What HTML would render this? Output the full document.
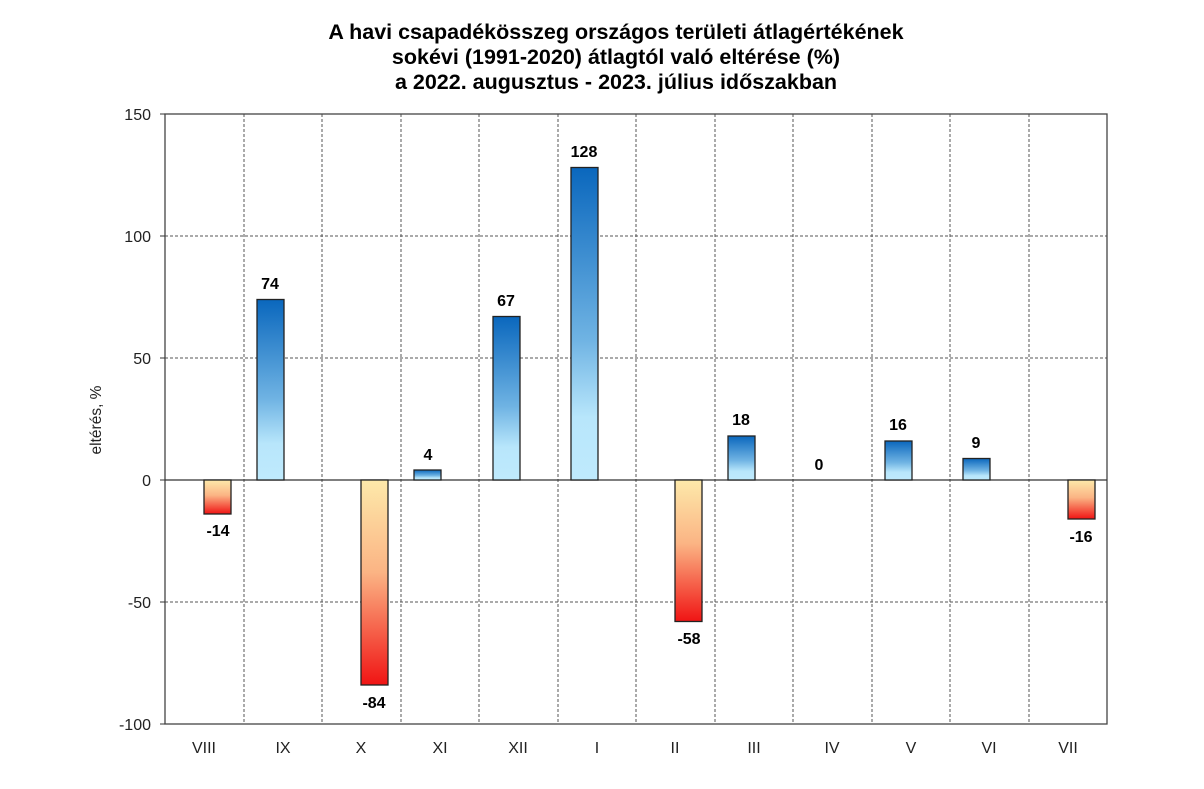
<!DOCTYPE html>
<html><head><meta charset="utf-8"><style>body{margin:0;background:#fff}</style></head><body>
<svg width="1204" height="784" xmlns="http://www.w3.org/2000/svg" font-family="Liberation Sans, Arial, sans-serif">
<defs>
<linearGradient id="b" x1="0" y1="0" x2="0" y2="1"><stop offset="0" stop-color="#0a67bd"/><stop offset="0.55" stop-color="#6fb3e3"/><stop offset="0.8" stop-color="#b8e6fb"/><stop offset="1" stop-color="#bfeafd"/></linearGradient>
<linearGradient id="r" x1="0" y1="0" x2="0" y2="1"><stop offset="0" stop-color="#fde9aa"/><stop offset="0.45" stop-color="#fbb484"/><stop offset="1" stop-color="#f01414"/></linearGradient>
</defs>
<g font-weight="bold" font-size="21.5" text-anchor="middle" fill="#000">
<text x="616" y="39">A havi csapadékösszeg országos területi átlagértékének</text>
<text x="616" y="64">sokévi (1991-2020) átlagtól való eltérése (%)</text>
<text x="616" y="89">a 2022. augusztus - 2023. július időszakban</text>
</g>
<g stroke="#555" stroke-width="1" stroke-dasharray="3,2">
<line x1="165" y1="236" x2="1107" y2="236"/><line x1="165" y1="358" x2="1107" y2="358"/><line x1="165" y1="602" x2="1107" y2="602"/>
<line x1="244" y1="114" x2="244" y2="724"/><line x1="322" y1="114" x2="322" y2="724"/><line x1="401" y1="114" x2="401" y2="724"/><line x1="479" y1="114" x2="479" y2="724"/><line x1="558" y1="114" x2="558" y2="724"/><line x1="636" y1="114" x2="636" y2="724"/><line x1="715" y1="114" x2="715" y2="724"/><line x1="793" y1="114" x2="793" y2="724"/><line x1="872" y1="114" x2="872" y2="724"/><line x1="950" y1="114" x2="950" y2="724"/><line x1="1029" y1="114" x2="1029" y2="724"/>
</g>
<rect x="165" y="114" width="942" height="610" fill="none" stroke="#444" stroke-width="1.3"/>
<line x1="165" y1="480" x2="1107" y2="480" stroke="#333" stroke-width="1.3"/>
<g stroke="#333" stroke-width="1"><line x1="160" y1="114" x2="165" y2="114"/><line x1="160" y1="236" x2="165" y2="236"/><line x1="160" y1="358" x2="165" y2="358"/><line x1="160" y1="480" x2="165" y2="480"/><line x1="160" y1="602" x2="165" y2="602"/><line x1="160" y1="724" x2="165" y2="724"/></g>
<g font-size="16" fill="#222" text-anchor="end">
<text x="151" y="120">150</text><text x="151" y="242">100</text><text x="151" y="364">50</text><text x="151" y="486">0</text><text x="151" y="608">-50</text><text x="151" y="730">-100</text>
</g>
<text transform="translate(101,420) rotate(-90)" font-size="15.5" fill="#222" text-anchor="middle">eltérés, %</text>
<g stroke="#222" stroke-width="1.3">
<rect x="204" y="480" width="27" height="34" fill="url(#r)"/>
<rect x="257" y="299.5" width="27" height="180.5" fill="url(#b)"/>
<rect x="361" y="480" width="27" height="205" fill="url(#r)"/>
<rect x="414" y="470" width="27" height="10" fill="url(#b)"/>
<rect x="493" y="316.5" width="27" height="163.5" fill="url(#b)"/>
<rect x="571" y="167.5" width="27" height="312.5" fill="url(#b)"/>
<rect x="675" y="480" width="27" height="141.5" fill="url(#r)"/>
<rect x="728" y="436" width="27" height="44" fill="url(#b)"/>
<rect x="885" y="441" width="27" height="39" fill="url(#b)"/>
<rect x="963" y="458.5" width="27" height="21.5" fill="url(#b)"/>
<rect x="1068" y="480" width="27" height="39" fill="url(#r)"/>
</g>
<g font-size="16" font-weight="bold" text-anchor="middle" fill="#000">
<text x="218" y="536">-14</text><text x="270" y="289">74</text><text x="374" y="708">-84</text><text x="428" y="460">4</text>
<text x="506" y="306">67</text><text x="584" y="157">128</text><text x="689" y="644">-58</text><text x="741" y="425">18</text>
<text x="819" y="470">0</text><text x="898" y="430">16</text><text x="976" y="448">9</text><text x="1081" y="542">-16</text>
</g>
<g font-size="16" fill="#222" text-anchor="middle">
<text x="204" y="753">VIII</text><text x="283" y="753">IX</text><text x="361" y="753">X</text><text x="440" y="753">XI</text><text x="518" y="753">XII</text><text x="597" y="753">I</text><text x="675" y="753">II</text><text x="754" y="753">III</text><text x="832" y="753">IV</text><text x="911" y="753">V</text><text x="989" y="753">VI</text><text x="1068" y="753">VII</text>
</g>
</svg>
</body></html>
